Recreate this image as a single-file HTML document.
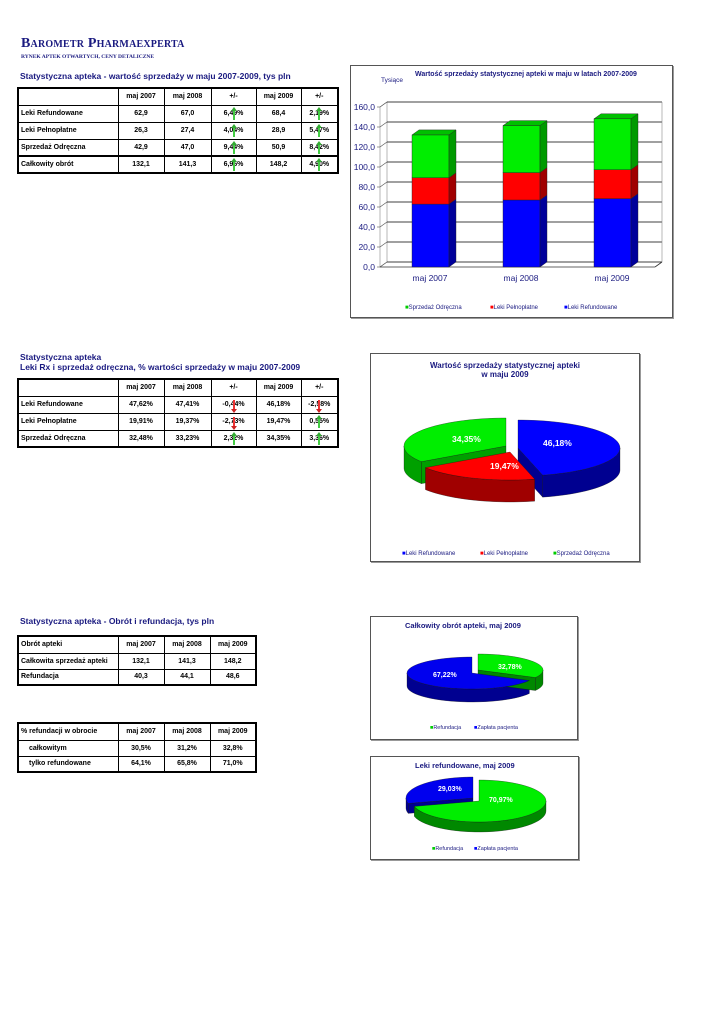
<!DOCTYPE html>
<html><head><meta charset="utf-8">
<style>
body{margin:0;width:725px;height:1024px;background:#fff;position:relative;font-family:"Liberation Sans",sans-serif;overflow:hidden}
.a{position:absolute}
.h{color:#1a1a80;font-weight:bold;font-size:8.5px;white-space:nowrap}
table{position:absolute;border-collapse:collapse;table-layout:fixed;font-size:7px;font-weight:bold;color:#000}
td{border:1px solid #000;padding:0 2px;text-align:center;white-space:nowrap;overflow:visible;position:relative}
td.l{text-align:left}
table.t{border:2px solid #000}
.box{position:absolute;border:1px solid #555;box-shadow:1px 1px 0 #999;background:#fff}
.up,.dn{position:absolute;left:50%;width:2px;height:11px;margin-left:-1px;top:3px}
.up{background:#4c4}
.dn{background:#e33}
.up:before,.dn:before{content:"";position:absolute;left:-2px;border-left:3px solid transparent;border-right:3px solid transparent}
.up:before{top:-2px;border-bottom:4px solid #3a3}
.dn:before{bottom:-2px;border-top:4px solid #c22}
.tx{fill:#1a1a80;font-size:8.5px}
</style></head><body>
<div class="a" style="left:21px;top:36px;font-family:'Liberation Serif',serif;font-weight:bold;color:#1a1a80;font-size:14px;font-variant:small-caps;letter-spacing:0.2px">Barometr Pharmaexperta</div>
<div class="a" style="left:21px;top:54px;font-family:'Liberation Serif',serif;font-weight:bold;color:#1a1a80;font-size:5.5px">RYNEK APTEK OTWARTYCH, CENY DETALICZNE</div>

<div class="a h" style="left:20px;top:71px">Statystyczna apteka - wartość sprzedaży w maju 2007-2009, tys pln</div>
<table class="t" style="left:17px;top:87px;width:320px">
<colgroup><col style="width:100px"><col style="width:46px"><col style="width:47px"><col style="width:45px"><col style="width:45px"><col style="width:37px"></colgroup>
<tr style="height:17px"><td></td><td>maj 2007</td><td>maj 2008</td><td>+/-</td><td>maj 2009</td><td>+/-</td></tr>
<tr style="height:17px"><td class="l">Leki Refundowane</td><td>62,9</td><td>67,0</td><td><i class="up"></i>6,49%</td><td>68,4</td><td><i class="up"></i>2,19%</td></tr>
<tr style="height:17px"><td class="l">Leki Pełnopłatne</td><td>26,3</td><td>27,4</td><td><i class="up"></i>4,04%</td><td>28,9</td><td><i class="up"></i>5,47%</td></tr>
<tr style="height:17px"><td class="l">Sprzedaż Odręczna</td><td>42,9</td><td>47,0</td><td><i class="up"></i>9,44%</td><td>50,9</td><td><i class="up"></i>8,42%</td></tr>
<tr style="height:17px;border-top:2px solid #000"><td class="l">Całkowity obrót</td><td>132,1</td><td>141,3</td><td><i class="up"></i>6,96%</td><td>148,2</td><td><i class="up"></i>4,90%</td></tr>
</table>

<div class="a h" style="left:20px;top:352px">Statystyczna apteka</div>
<div class="a h" style="left:20px;top:362px">Leki Rx i sprzedaż odręczna, % wartości sprzedaży w maju 2007-2009</div>
<table class="t" style="left:17px;top:378px;width:320px">
<colgroup><col style="width:100px"><col style="width:46px"><col style="width:47px"><col style="width:45px"><col style="width:45px"><col style="width:37px"></colgroup>
<tr style="height:17px"><td></td><td>maj 2007</td><td>maj 2008</td><td>+/-</td><td>maj 2009</td><td>+/-</td></tr>
<tr style="height:17px"><td class="l">Leki Refundowane</td><td>47,62%</td><td>47,41%</td><td><i class="dn"></i>-0,44%</td><td>46,18%</td><td><i class="dn"></i>-2,58%</td></tr>
<tr style="height:17px"><td class="l">Leki Pełnopłatne</td><td>19,91%</td><td>19,37%</td><td><i class="dn"></i>-2,73%</td><td>19,47%</td><td><i class="up"></i>0,55%</td></tr>
<tr style="height:17px"><td class="l">Sprzedaż Odręczna</td><td>32,48%</td><td>33,23%</td><td><i class="up"></i>2,32%</td><td>34,35%</td><td><i class="up"></i>3,36%</td></tr>
</table>

<div class="a h" style="left:20px;top:616px">Statystyczna apteka - Obrót i refundacja, tys pln</div>
<table class="t" style="left:17px;top:635px;width:238px">
<colgroup><col style="width:100px"><col style="width:46px"><col style="width:46px"><col style="width:46px"></colgroup>
<tr style="height:17px"><td class="l">Obrót apteki</td><td>maj 2007</td><td>maj 2008</td><td>maj 2009</td></tr>
<tr style="height:16px"><td class="l">Całkowita sprzedaż apteki</td><td>132,1</td><td>141,3</td><td>148,2</td></tr>
<tr style="height:16px"><td class="l">Refundacja</td><td>40,3</td><td>44,1</td><td>48,6</td></tr>
</table>
<table class="t" style="left:17px;top:722px;width:238px">
<colgroup><col style="width:100px"><col style="width:46px"><col style="width:46px"><col style="width:46px"></colgroup>
<tr style="height:17px"><td class="l">% refundacji w obrocie</td><td>maj 2007</td><td>maj 2008</td><td>maj 2009</td></tr>
<tr style="height:16px"><td class="l" style="padding-left:10px">całkowitym</td><td>30,5%</td><td>31,2%</td><td>32,8%</td></tr>
<tr style="height:16px"><td class="l" style="padding-left:10px">tylko refundowane</td><td>64,1%</td><td>65,8%</td><td>71,0%</td></tr>
</table>

<div class="box" style="left:350px;top:65px;width:321px;height:251px"></div>
<div class="box" style="left:370px;top:353px;width:268px;height:207px"></div>
<div class="box" style="left:370px;top:616px;width:206px;height:122px"></div>
<div class="box" style="left:370px;top:756px;width:207px;height:102px"></div>

<svg class="a" style="left:0;top:0" width="725" height="1024" id="s">
<text x="415" y="76" style="fill:#1a1a80;font-size:7px;font-weight:bold">Wartość sprzedaży statystycznej apteki w maju w latach 2007-2009</text>
<text x="381" y="82" style="fill:#1a1a80;font-size:6.5px">Tysiące</text>
<g id="bar"></g>
<g style="font-size:6px;fill:#1a1a80">
<text x="405" y="309"><tspan fill="#0c0">■</tspan>Sprzedaż Odręczna</text>
<text x="490" y="309"><tspan fill="#f00">■</tspan>Leki Pełnopłatne</text>
<text x="564" y="309"><tspan fill="#00f">■</tspan>Leki Refundowane</text>
</g>
<text x="505" y="368" text-anchor="middle" style="fill:#1a1a80;font-size:8px;font-weight:bold">Wartość sprzedaży statystycznej apteki</text>
<text x="505" y="377" text-anchor="middle" style="fill:#1a1a80;font-size:8px;font-weight:bold">w maju 2009</text>
<g id="p1"></g>
<g style="fill:#fff;font-size:8.5px;font-weight:bold">
<text x="452" y="442">34,35%</text><text x="543" y="446">46,18%</text><text x="490" y="469">19,47%</text>
</g>
<g style="font-size:6px;fill:#1a1a80">
<text x="402" y="555"><tspan fill="#00f">■</tspan>Leki Refundowane</text>
<text x="480" y="555"><tspan fill="#f00">■</tspan>Leki Pełnopłatne</text>
<text x="553" y="555"><tspan fill="#0c0">■</tspan>Sprzedaż Odręczna</text>
</g>
<text x="405" y="628" style="fill:#1a1a80;font-size:7.5px;font-weight:bold">Całkowity obrót apteki, maj 2009</text>
<g id="p2"></g>
<g style="fill:#fff;font-size:7px;font-weight:bold"><text x="433" y="677">67,22%</text><text x="498" y="669">32,78%</text></g>
<g style="font-size:5.5px;fill:#1a1a80"><text x="430" y="729"><tspan fill="#0c0">■</tspan>Refundacja</text><text x="474" y="729"><tspan fill="#00f">■</tspan>Zapłata pacjenta</text></g>
<text x="415" y="768" style="fill:#1a1a80;font-size:7.5px;font-weight:bold">Leki refundowane, maj 2009</text>
<g id="p3"></g>
<g style="fill:#fff;font-size:7px;font-weight:bold"><text x="438" y="791">29,03%</text><text x="489" y="802">70,97%</text></g>
<g style="font-size:5.5px;fill:#1a1a80"><text x="432" y="850"><tspan fill="#0c0">■</tspan>Refundacja</text><text x="474" y="850"><tspan fill="#00f">■</tspan>Zapłata pacjenta</text></g>
</svg>
<script>
var NS="http://www.w3.org/2000/svg";
function el(g,t,a){var e=document.createElementNS(NS,t);for(var k in a)e.setAttribute(k,a[k]);g.appendChild(e);return e;}
var b=document.getElementById('bar');
var y0=267,X0=380,X1=655,dx=7,dy=-5;
el(b,'polygon',{points:[X0,y0,X0+dx,y0+dy,X0+dx,107+dy,X0,107].join(','),fill:'#fff',stroke:'#888','stroke-width':0.6});
for(var v=0;v<=160;v+=20){var y=y0-v;
 el(b,'line',{x1:X0+dx,y1:y+dy,x2:X1+dx,y2:y+dy,stroke:'#000','stroke-width':0.8});
 el(b,'line',{x1:X0,y1:y,x2:X0+dx,y2:y+dy,stroke:'#555','stroke-width':0.6});
 el(b,'line',{x1:X0-3,y1:y,x2:X0,y2:y,stroke:'#555','stroke-width':0.6});
 var t=el(b,'text',{x:X0-5,y:y+3,'text-anchor':'end',class:'tx'});t.textContent=v.toFixed(1).replace('.',',');}
el(b,'line',{x1:X1+dx,y1:107+dy,x2:X1+dx,y2:y0+dy,stroke:'#888','stroke-width':0.6});
el(b,'line',{x1:X0,y1:y0,x2:X1,y2:y0,stroke:'#333','stroke-width':0.8});
el(b,'line',{x1:X1,y1:y0,x2:X1+dx,y2:y0+dy,stroke:'#333','stroke-width':0.8});
[[412,62.9,26.3,42.9,'maj 2007'],[503,67.0,27.4,47.0,'maj 2008'],[594,68.4,28.9,50.9,'maj 2009']].forEach(function(d){
 var x=d[0],w=37,base=y0,cols=[['#0000ff','#00009a'],['#ff0000','#a00000'],['#00ee00','#009a00']];
 for(var i=0;i<3;i++){var h=d[i+1],top=base-h;
  el(b,'rect',{x:x,y:top,width:w,height:h,fill:cols[i][0],stroke:'#222','stroke-width':0.4});
  el(b,'polygon',{points:[x+w,base,x+w+dx,base+dy,x+w+dx,top+dy,x+w,top].join(','),fill:cols[i][1],stroke:'#222','stroke-width':0.4});
  if(i==2)el(b,'polygon',{points:[x,top,x+dx,top+dy,x+w+dx,top+dy,x+w,top].join(','),fill:'#00c000',stroke:'#222','stroke-width':0.4});
  base=top;}
 var t=el(b,'text',{x:x+18,y:281,'text-anchor':'middle',class:'tx','font-size':'7'});t.textContent=d[4];
});
function P(cx,cy,rx,ry,a){var r=a*Math.PI/180;return [cx+rx*Math.sin(r),cy-ry*Math.cos(r)];}
function pie(id,cx,cy,rx,ry,dep,sl){
 var g=document.getElementById(id);
 sl.forEach(function(s){var x=cx+s.ex,y=cy+s.ey;
  [[s.a,Math.sin(s.a*Math.PI/180)<-0.01],[s.b,Math.sin(s.b*Math.PI/180)>0.01]].forEach(function(f){
   if(!f[1])return;var q=P(x,y,rx,ry,f[0]);
   el(g,'polygon',{points:[[x,y],q,[q[0],q[1]+dep],[x,y+dep]].map(function(z){return z.join(',')}).join(' '),fill:s.d,stroke:'#111','stroke-width':0.3});});
  var a1=Math.max(s.a,90),a2=Math.min(s.b,270);
  if(a2>a1){var p=[],n=30;for(var i=0;i<=n;i++)p.push(P(x,y,rx,ry,a1+(a2-a1)*i/n));
   for(var i=n;i>=0;i--){var q=P(x,y,rx,ry,a1+(a2-a1)*i/n);p.push([q[0],q[1]+dep]);}
   el(g,'polygon',{points:p.map(function(q){return q.join(',')}).join(' '),fill:s.d,stroke:'#111','stroke-width':0.3});}
 });
 sl.forEach(function(s){var x=cx+s.ex,y=cy+s.ey;var p=[[x,y]],n=60;
  for(var i=0;i<=n;i++)p.push(P(x,y,rx,ry,s.a+(s.b-s.a)*i/n));
  el(g,'polygon',{points:p.map(function(q){return q.join(',')}).join(' '),fill:s.c,stroke:'#111','stroke-width':0.3});});
}
pie('p1',512,448,102,28,22,[
 {a:236,b:360,c:'#00ee00',d:'#00a000',ex:-6,ey:-2},
 {a:0,b:166,c:'#0000ff',d:'#000090',ex:6,ey:0},
 {a:166,b:236,c:'#ff0000',d:'#a00000',ex:-2,ey:4}]);
pie('p2',472,673,65,16,13,[
 {a:118,b:360,c:'#0000ee',d:'#000090',ex:0,ey:0},
 {a:0,b:118,c:'#00ee00',d:'#008800',ex:6,ey:-3}]);
pie('p3',479,801,67,21,10,[
 {a:255,b:360,c:'#0000ee',d:'#000090',ex:-6,ey:-3},
 {a:0,b:255,c:'#00ee00',d:'#008800',ex:0,ey:0}]);
</script>
</body></html>
